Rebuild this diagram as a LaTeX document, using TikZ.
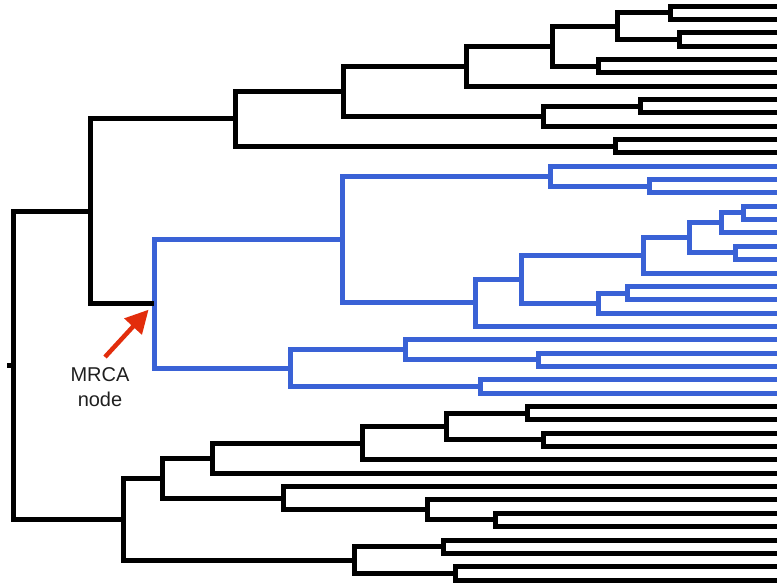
\documentclass[tikz,border=0pt]{standalone}
\usepackage{fontspec}
\setmainfont{Liberation Sans}
\usetikzlibrary{arrows.meta}
\definecolor{cladeblue}{RGB}{58,98,214}
\definecolor{arrowred}{RGB}{226,45,12}
\tikzset{
  branch/.style={line width=5pt, line cap=butt, line join=miter, draw=black},
  bluebranch/.style={branch, draw=cladeblue},
  pointer/.style={draw=arrowred, line width=4.5pt, -{Triangle[length=23pt,width=23pt]}, shorten >=8pt},
  lbl/.style={align=center, inner sep=0pt, font=\fontsize{20}{24.3}\selectfont, text=black!88}
}
\begin{document}
\begin{tikzpicture}[x=1pt,y=-1pt]
\useasboundingbox (0,0) rectangle (783,587);
% tips
\foreach \i in {0,...,43} {\coordinate (t\i) at (777,{6+13.35*\i});}
% top clade internal nodes
\coordinate (a01) at (670,12.68);
\coordinate (a23) at (679,39.38);
\coordinate (a0123) at (617,26.03);
\coordinate (a45) at (598,66.08);
\coordinate (a05) at (552,46.05);
\coordinate (F) at (466,66.08);
\coordinate (a78) at (640,106.13);
\coordinate (H) at (543,116.14);
\coordinate (J) at (343,91.11);
\coordinate (I) at (615,146.18);
\coordinate (L) at (235,118.64);
% blue clade
\coordinate (b1314) at (649,186.23);
\coordinate (K) at (550,176.2);
\coordinate (b1516) at (743,212.93);
\coordinate (b1517) at (721,222.94);
\coordinate (b1819) at (735,252.98);
\coordinate (b1519) at (689,237.96);
\coordinate (b1520) at (643,255.48);
\coordinate (b2122) at (627,293.03);
\coordinate (b2123) at (598,303.04);
\coordinate (b1523) at (521,279.26);
\coordinate (b1524) at (475,302.83);
\coordinate (bK) at (342,239.5);
\coordinate (b2627) at (538,359.78);
\coordinate (b2527) at (405,349.76);
\coordinate (b2829) at (480,386.48);
\coordinate (b2529) at (290,368.12);
\coordinate (MRCA) at (154,303.8);
\coordinate (M) at (90,211.2);
% bottom clade
\coordinate (c3031) at (527,413.18);
\coordinate (c3233) at (543,439.88);
\coordinate (c3033) at (446,426.53);
\coordinate (c3034) at (362,443.2);
\coordinate (c3035) at (212,458.2);
\coordinate (c3839) at (495,519.98);
\coordinate (c3739) at (427,509.96);
\coordinate (c3639) at (283,498.3);
\coordinate (c3039) at (162,478.25);
\coordinate (c4041) at (443,546.68);
\coordinate (c4243) at (455,573.38);
\coordinate (c4043) at (354,560.03);
\coordinate (N) at (123,519.14);
\coordinate (root) at (13,365.17);
\coordinate (stub) at (7,365.17);
\coordinate (arrtail) at (105,357);
% blue clade branches
\draw[bluebranch] (t13) -| (b1314) |- (t14);
\draw[bluebranch] (t12) -| (K) |- (b1314);
\draw[bluebranch] (t15) -| (b1516) |- (t16);
\draw[bluebranch] (b1516) -| (b1517) |- (t17);
\draw[bluebranch] (t18) -| (b1819) |- (t19);
\draw[bluebranch] (b1517) -| (b1519) |- (b1819);
\draw[bluebranch] (b1519) -| (b1520) |- (t20);
\draw[bluebranch] (t21) -| (b2122) |- (t22);
\draw[bluebranch] (b2122) -| (b2123) |- (t23);
\draw[bluebranch] (b1520) -| (b1523) |- (b2123);
\draw[bluebranch] (b1523) -| (b1524) |- (t24);
\draw[bluebranch] (K) -| (bK) |- (b1524);
\draw[bluebranch] (t26) -| (b2627) |- (t27);
\draw[bluebranch] (t25) -| (b2527) |- (b2627);
\draw[bluebranch] (t28) -| (b2829) |- (t29);
\draw[bluebranch] (b2527) -| (b2529) |- (b2829);
\draw[bluebranch] (bK) -| (MRCA) |- (b2529);
% top clade branches
\draw[branch] (t0) -| (a01) |- (t1);
\draw[branch] (t2) -| (a23) |- (t3);
\draw[branch] (a01) -| (a0123) |- (a23);
\draw[branch] (t4) -| (a45) |- (t5);
\draw[branch] (a0123) -| (a05) |- (a45);
\draw[branch] (a05) -| (F) |- (t6);
\draw[branch] (t7) -| (a78) |- (t8);
\draw[branch] (a78) -| (H) |- (t9);
\draw[branch] (F) -| (J) |- (H);
\draw[branch] (t10) -| (I) |- (t11);
\draw[branch] (J) -| (L) |- (I);
\draw[branch] (L) -| (M) |- (MRCA);
% bottom clade branches
\draw[branch] (t30) -| (c3031) |- (t31);
\draw[branch] (t32) -| (c3233) |- (t33);
\draw[branch] (c3031) -| (c3033) |- (c3233);
\draw[branch] (c3033) -| (c3034) |- (t34);
\draw[branch] (c3034) -| (c3035) |- (t35);
\draw[branch] (t38) -| (c3839) |- (t39);
\draw[branch] (t37) -| (c3739) |- (c3839);
\draw[branch] (t36) -| (c3639) |- (c3739);
\draw[branch] (c3035) -| (c3039) |- (c3639);
\draw[branch] (t40) -| (c4041) |- (t41);
\draw[branch] (t42) -| (c4243) |- (t43);
\draw[branch] (c4041) -| (c4043) |- (c4243);
\draw[branch] (c3039) -| (N) |- (c4043);
\draw[branch] (M) -| (root) |- (N);
\draw[branch] (stub) -- (root);
% label and arrow
\node[lbl, anchor=base] (label) at (100,406) {MRCA\\node};
\draw[pointer] (arrtail) -- (MRCA);
\end{tikzpicture}
\end{document}
